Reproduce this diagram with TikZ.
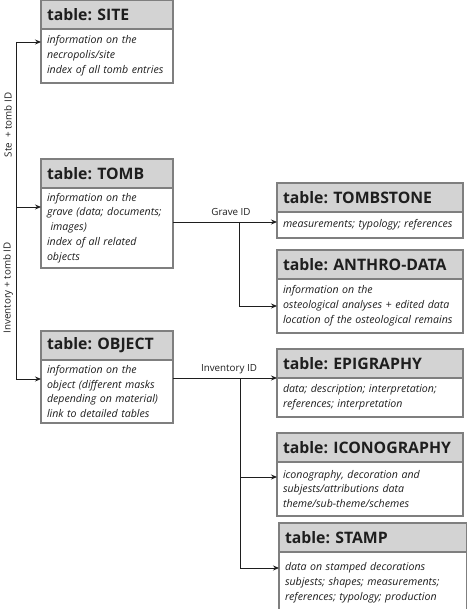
\documentclass[tikz,border=0pt]{standalone}
\usepackage{fontspec}
\setmainfont{Open Sans}
\usepackage{tikz}
\usetikzlibrary{arrows.meta}
\usetikzlibrary{calc}
\usetikzlibrary{positioning}
\usepackage{xcolor}
\definecolor{myblack}{HTML}{1E1E1E}
\definecolor{mygrey}{HTML}{7F7F7F}
\definecolor{myhead}{HTML}{D3D3D3}
\frenchspacing
\tikzset{node distance=0pt}
\tikzstyle{head} = [draw=mygrey, fill=myhead, line width=1.2pt, outer sep=0pt, inner xsep=6pt, anchor=north west, minimum height=29pt, text=myblack, align=left, font={\fontsize{15.8}{17}\selectfont\bfseries}]
\tikzstyle{body} = [draw=mygrey, fill=white, line width=1.2pt, outer sep=0pt, inner xsep=6pt, inner ysep=3pt, text=myblack, align=left, font={\fontsize{10.6}{14.8}\selectfont\itshape}]
\tikzstyle{ln} = [draw=myblack, line width=0.8pt, -{Stealth[length=6pt, width=5pt, inset=2pt]}]
\tikzstyle{lbl} = [font={\fontsize{9.8}{12}\selectfont}, text=myblack, inner sep=1pt]

\begin{document}
\begin{tikzpicture}[x=1pt, y=-1pt]
  \useasboundingbox (0,0) rectangle (466,609);
  % left column
  \node[head, text width=120pt] (site) at (41,0) {table: SITE};
  \node[body, text width=120pt, minimum height=54pt, below=of site] (sitebody) {information on the\\necropolis/site\\index of all tomb entries};
  \node[head, text width=120pt] (tomb) at (41,159) {table: TOMB};
  \node[body, text width=120pt, minimum height=80pt, below=of tomb] (tombbody) {information on the\\grave (data; documents;\\\ images)\\index of all related\\objects};
  \node[head, text width=120pt] (object) at (41,331) {table: OBJECT};
  \node[body, text width=120pt, minimum height=63pt, below=of object] (objectbody) {information on the\\object (different masks\\depending on material)\\link to detailed tables};
  % right column
  \node[head, text width=174pt] (tombstone) at (277,183) {table: TOMBSTONE};
  \node[body, text width=174pt, minimum height=26pt, below=of tombstone] (tombstonebody) {measurements; typology; references};
  \node[head, text width=174pt] (anthro) at (277,250) {table: ANTHRO-DATA};
  \node[body, text width=174pt, minimum height=54pt, below=of anthro] (anthrobody) {information on the\\osteological analyses + edited data\\location of the osteological remains};
  \node[head, text width=174pt] (epigraphy) at (277,349) {table: EPIGRAPHY};
  \node[body, text width=174pt, minimum height=39pt, below=of epigraphy] (epigraphybody) {data; description; interpretation;\\references; interpretation};
  \node[head, text width=174pt] (iconography) at (277,433) {table: ICONOGRAPHY};
  \node[body, text width=174pt, minimum height=54pt, below=of iconography] (iconographybody) {iconography, decoration and\\subjests/attributions data\\theme/sub-theme/schemes};
  \node[head, text width=176pt] (stamp) at (279,523) {table: STAMP};
  \node[body, text width=176pt, minimum height=62pt, below=of stamp] (stampbody) {data on stamped decorations\\subjests; shapes; measurements;\\references; typology; production};
  % left bus
  \coordinate (bustop) at (16,42);
  \coordinate (busmid) at (16,207);
  \coordinate (busbot) at (16,379);
  \draw[line width=0.8pt, myblack] (bustop) -- (busbot);
  \draw[ln] (bustop) -- (bustop -| sitebody.west);
  \draw[ln] (busmid) -- (busmid -| tombbody.west);
  \draw[ln] (busbot) -- (busbot -| objectbody.west);
  \node[lbl, rotate=90] (stelbl) at (8,125) {Ste~ + tomb ID};
  \node[lbl, rotate=90] (invlbl) at (8,288) {Inventory + tomb ID};
  % grave ID links
  \coordinate (graveout) at (173,222);
  \coordinate (gravesplit) at (239,222);
  \draw[ln] (graveout) -- (graveout -| tombstonebody.west);
  \draw[ln] (gravesplit) |- (anthrobody.west |- 0,306);
  \node[lbl] (gravelbl) at (231,212) {Grave ID};
  % inventory ID links
  \coordinate (invout) at (173,378);
  \coordinate (invsplit) at (240,378);
  \draw[ln] (invout) -- (invout -| epigraphybody.west);
  \draw[ln] (invsplit) |- (iconographybody.west |- 0,477);
  \draw[ln] (invsplit) |- (stampbody.west |- 0,568);
  \node[lbl] (invlbl2) at (229,369) {Inventory ID};
\end{tikzpicture}
\end{document}
